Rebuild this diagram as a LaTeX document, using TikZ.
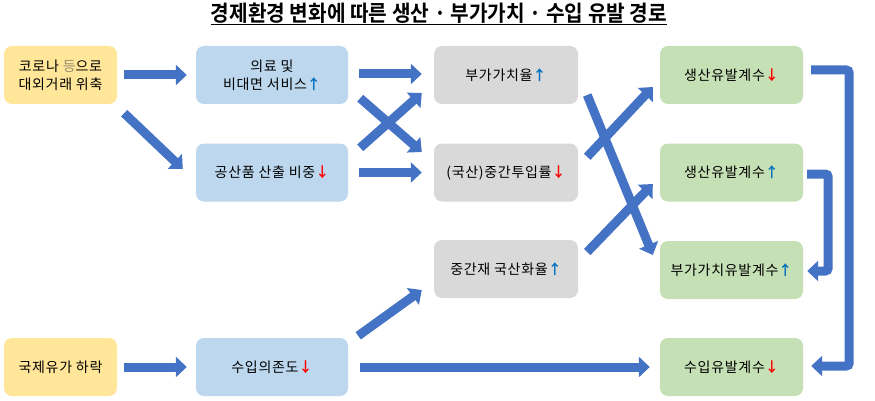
\documentclass[tikz,border=0pt]{standalone}
\usepackage{fontspec}
\usepackage{graphicx}
\setmainfont{Noto Sans CJK KR}[BoldFont={Noto Sans CJK KR Bold}]
\newfontfamily\boxfont{Noto Sans CJK KR}[BoldFont={Noto Sans CJK KR Bold}, LetterSpace=5]
\usetikzlibrary{arrows.meta,calc}
\definecolor{ybox}{HTML}{FFE699}
\definecolor{bbox}{HTML}{BDD7EE}
\definecolor{gbox}{HTML}{D9D9D9}
\definecolor{nbox}{HTML}{C5E0B4}
\definecolor{abl}{HTML}{4472C4}
\definecolor{upc}{HTML}{0070C0}
\definecolor{dnc}{HTML}{FF0000}
\definecolor{dimc}{HTML}{9A8F72}
\newcommand{\upar}{{\bfseries\color{upc}↑}}
\newcommand{\dnar}{{\bfseries\color{dnc}↓}}
\begin{document}
\begin{tikzpicture}[x=1pt,y=-1pt,
  box/.style={rounded corners=8pt, minimum height=58pt, align=center, inner sep=0pt,
    font=\boxfont\fontsize{14}{18}\selectfont, text=black},
  ybx/.style={box, fill=ybox, minimum width=113pt},
  bbx/.style={box, fill=bbox, minimum width=152pt},
  gbx/.style={box, fill=gbox, minimum width=144pt},
  nbx/.style={box, fill=nbox, minimum width=143pt},
  barrow/.style={draw=abl, line width=9pt, -{Triangle[length=11pt,width=20pt]}},
]
\useasboundingbox (0,0) rectangle (875,401);

\node (title) at (439,14) {\scalebox{0.92}[1]{\fontsize{22}{24}\selectfont\bfseries\underline{경제환경 변화에 따른 생산 · 부가가치 · 수입 유발 경로}}};

\node[ybx] (y1) at (60.5,75) {코로나 {\color{dimc}등}으로\\대외거래 위축};
\node[ybx] (y2) at (60.5,367) {국제유가 하락};

\node[bbx] (b1) at (272,75) {의료 및\\비대면 서비스\upar};
\node[bbx] (b2) at (272,172.5) {공산품 산출 비중\dnar};
\node[bbx] (b3) at (272,367) {수입의존도\dnar};

\node[gbx] (g1) at (506,75) {부가가치율\upar};
\node[gbx] (g2) at (506,172.5) {(국산)중간투입률\dnar};
\node[gbx] (g3) at (506,269) {중간재 국산화율\upar};

\node[nbx] (n1) at (731.5,75) {생산유발계수\dnar};
\node[nbx] (n2) at (731.5,172.5) {생산유발계수\upar};
\node[nbx] (n3) at (731.5,270) {부가가치유발계수\upar};
\node[nbx] (n4) at (731.5,367) {수입유발계수\dnar};

% left column
\draw[barrow] ($(y1.east)+(7,0)$) -- ($(b1.west)+(-9,0)$);
\draw[barrow] ($(y1.south east)+(7,9)$) -- ($(b2.west)+(-13,-3.5)$);
\draw[barrow] ($(y2.east)+(7,0)$) -- ($(b3.west)+(-9,0)$);

% middle column
\draw[barrow] ($(b1.east)+(11,-1)$) -- ($(g1.west)+(-12,-1)$);
\draw[barrow] ($(b2.east)+(11,0)$) -- ($(g2.west)+(-12,0)$);
\draw[barrow] ($(b1.south east)+(12,-6)$) -- ($(g2.west)+(-12,-20.5)$);
\draw[barrow] ($(b2.north east)+(12,4.5)$) -- ($(g1.west)+(-12,18)$);
\draw[barrow] ($(b3.north east)+(10,-2)$) -- ($(g3.west)+(-12,21)$);
\draw[barrow] ($(b3.east)+(12,0)$) -- ($(n4.west)+(-10,0)$);

% right column
\draw[barrow] ($(g2.north east)+(9,13.5)$) -- ($(n1.west)+(-7,12)$);
\draw[barrow] ($(g1.east)+(9,20)$) -- ($(n3.west)+(-7,-15)$);
\draw[barrow] ($(g3.east)+(9,-17)$) -- ($(n2.west)+(-7,11.5)$);

% elbows
\draw[barrow, rounded corners=3pt] ($(n1.east)+(8,-5)$) -- ++(38,0) |- ($(n4.east)+(8,-1)$);
\draw[barrow, rounded corners=3pt] ($(n2.east)+(4,1.5)$) -- ++(21,0) |- ($(n3.east)+(4,1)$);
\end{tikzpicture}
\end{document}
